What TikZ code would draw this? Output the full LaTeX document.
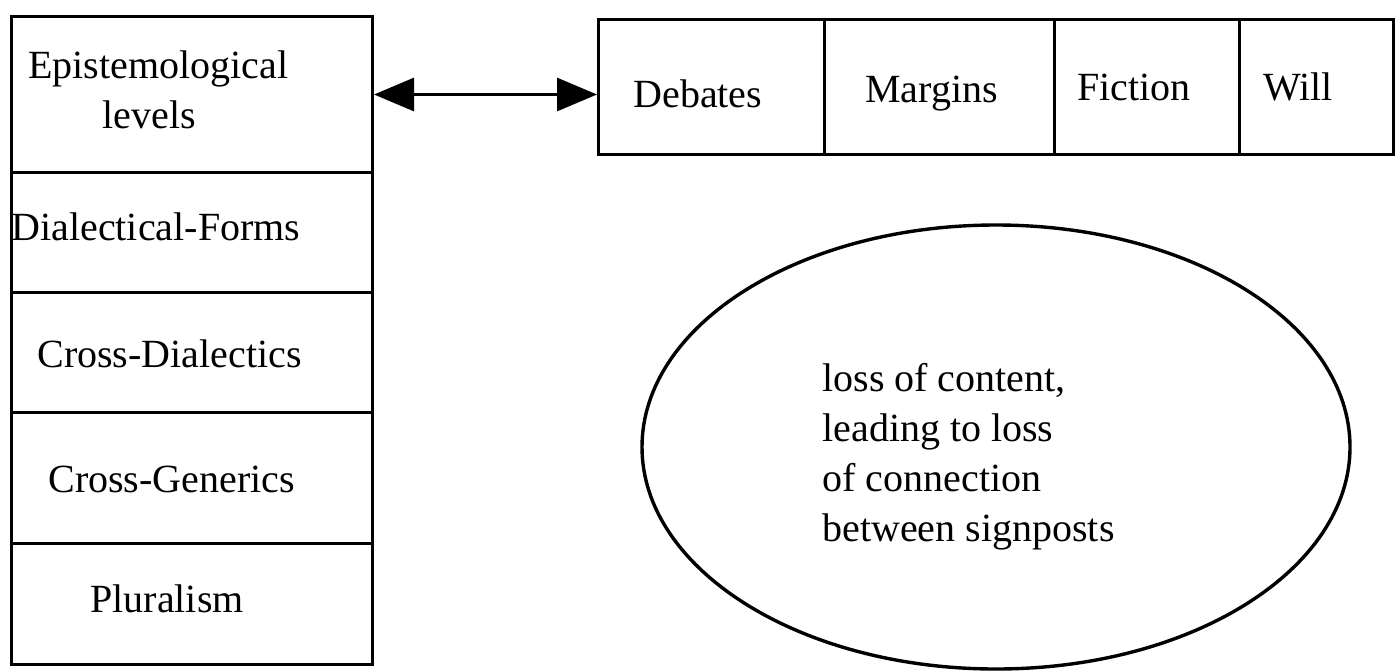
\documentclass[tikz,border=0pt]{standalone}
\usepackage{fontspec}
\setmainfont{Liberation Serif}
\usetikzlibrary{arrows.meta,shapes.geometric}

\begin{document}
\begin{tikzpicture}[x=0.5pt,y=-0.5pt,
  cell/.style={draw,line width=1.5pt,rectangle,inner sep=0pt,anchor=north west},
  lbl/.style={inner sep=0pt,anchor=base west,font=\fontsize{20}{25}\selectfont},
  link/.style={line width=1.5pt,{Triangle[length=20pt,width=16.5pt]}-{Triangle[length=20pt,width=16.5pt]}}]

\useasboundingbox (0,0) rectangle (1400,670);

% left column of stacked cells
\node[cell,minimum width=180.5pt,minimum height=78pt]   (r1) at (10,15)  {};
\node[cell,minimum width=180.5pt,minimum height=60pt]   (r2) at (10,171) {};
\node[cell,minimum width=180.5pt,minimum height=60pt]   (r3) at (10,291) {};
\node[cell,minimum width=180.5pt,minimum height=65.5pt] (r4) at (10,411) {};
\node[cell,minimum width=180.5pt,minimum height=60.5pt] (r5) at (10,542) {};

\node[lbl] (t1a) at (28,78)  {Epistemological};
\node[lbl] (t1b) at (102,128) {levels};
\node[lbl] (t2)  at (11,240) {Dialectical-Forms};
\node[lbl] (t3)  at (37,367) {Cross-Dialectics};
\node[lbl] (t4)  at (48,492) {Cross-Generics};
\node[lbl] (t5)  at (90,612) {Pluralism};

% top row of cells
\node[cell,minimum width=113pt,minimum height=67.5pt]  (c1) at (597,18)  {};
\node[cell,minimum width=115pt,minimum height=67.5pt]  (c2) at (823,18)  {};
\node[cell,minimum width=92.5pt,minimum height=67.5pt] (c3) at (1053,18) {};
\node[cell,minimum width=77pt,minimum height=67.5pt]   (c4) at (1238,18) {};

\node[lbl] (d1) at (633,107)  {Debates};
\node[lbl] (d2) at (865,102)  {Margins};
\node[lbl] (d3) at (1077,100) {Fiction};
\node[lbl] (d4) at (1263,100) {Will};

% double-headed connector
\draw[link] (r1.east) -- (r1.east -| c1.west);

% oval with its note
\node[draw,ellipse,line width=1.7pt,minimum width=354pt,minimum height=222pt,inner sep=0pt] (oval) at (996,447) {};
\node[inner sep=0pt,anchor=north west,align=left,font=\fontsize{20}{25}\selectfont] (note) at (822,363)
  {loss of content,\\leading to loss\\of connection\\between signposts};

\end{tikzpicture}
\end{document}
